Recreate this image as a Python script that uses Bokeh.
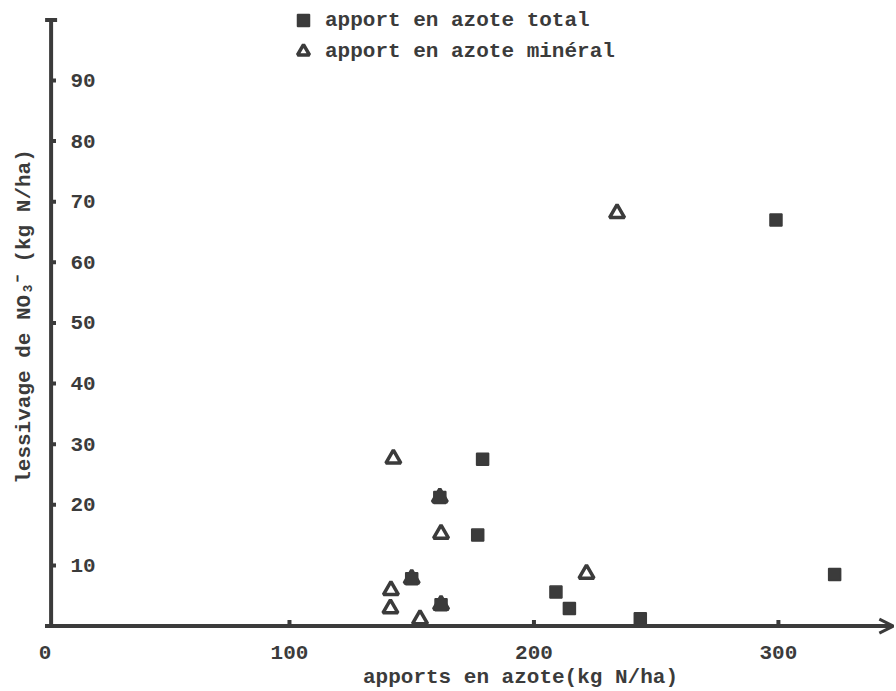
import math
from bokeh.plotting import figure
from bokeh.models import Range1d, Arrow, OpenHead, TeeHead, Label, Legend, LegendItem
from bokeh.core.properties import value
from bokeh.embed import file_html
from bokeh.resources import INLINE

# ---- data ----
series_names = ["apport en azote total", "apport en azote minéral"]
total_x = [299, 179, 177, 323, 209, 214.5, 243.5, 150, 161.5, 162]
total_y = [67, 27.5, 15, 8.5, 5.6, 2.9, 1.2, 7.8, 21.2, 3.5]
mineral_x = [234, 142.5, 162, 221.5, 141.5, 141.3, 153.4, 150, 161.5, 162]
mineral_y = [68.1, 27.6, 15.2, 8.6, 5.9, 2.9, 1.1, 7.8, 21.2, 3.5]

x_ticks = [0, 100, 200, 300]
x_tick_labels = ["0", "100", "200", "300"]
y_ticks = [10, 20, 30, 40, 50, 60, 70, 80, 90]
y_tick_labels = ["10", "20", "30", "40", "50", "60", "70", "80", "90"]
x_title = "apports en azote(kg N/ha)"
y_title = "lessivage de NO\u2083\u207b (kg N/ha)"
X_AXIS_END = 347
Y_AXIS_END = 100

INK = "#3b3b3b"
FONT = "Liberation Mono"
FSTYLE = "bold"

p = figure(width=896, height=691, x_range=Range1d(-18.2, 348.3), y_range=Range1d(-10.8, 103.2),
           output_backend="svg", toolbar_location=None, x_axis_type=None, y_axis_type=None,
           min_border=0, outline_line_color=None)
p.grid.visible = False
p.background_fill_color = "white"
p.border_fill_color = "white"

# axes lines
p.add_layout(Arrow(x_start=0, y_start=0, x_end=X_AXIS_END, y_end=0, line_width=4, line_color=INK,
                   end=OpenHead(size=14, line_width=3, line_color=INK)))
p.add_layout(Arrow(x_start=2.5, y_start=-0.3, x_end=2.5, y_end=Y_AXIS_END, line_width=4, line_color=INK,
                   end=TeeHead(size=12, line_width=4, line_color=INK)))

# tick marks
p.segment(x0=2.5, x1=4.5, y0=y_ticks, y1=y_ticks, line_width=4, line_color=INK)
p.segment(x0=x_ticks[1:], x1=x_ticks[1:], y0=0, y1=1.0, line_width=4, line_color=INK)

# tick labels
p.text(x=10.4, y=y_ticks, text=y_tick_labels, text_align="left", text_baseline="middle",
       text_font=value(FONT), text_font_style=FSTYLE, text_font_size="21px", text_color=INK)
p.text(x=x_ticks, y=-4.3, text=x_tick_labels, text_align="center", text_baseline="middle",
       text_font=value(FONT), text_font_style=FSTYLE, text_font_size="21px", text_color=INK)

# data: triangles first, squares on top
tri = p.scatter(mineral_x, mineral_y, marker="triangle", size=15, fill_color="white",
                line_color=INK, line_width=3.5)
sq = p.scatter(total_x, total_y, marker="square", size=12, fill_color=INK, line_color=INK, line_width=1.5)

# titles
p.add_layout(Label(x=520, y=14, x_units="screen", y_units="screen", text=x_title,
                   text_align="center", text_baseline="middle", text_font=FONT, text_font_style=FSTYLE,
                   text_font_size="21px", text_color=INK))
p.add_layout(Label(x=24, y=375, x_units="screen", y_units="screen", text=y_title, angle=math.pi / 2,
                   text_align="center", text_baseline="middle", text_font=FONT, text_font_style=FSTYLE,
                   text_font_size="21px", text_color=INK))

legend = Legend(items=[LegendItem(label=series_names[0], renderers=[sq]),
                       LegendItem(label=series_names[1], renderers=[tri])],
                location=(288, 625), orientation="vertical", glyph_width=30, glyph_height=30,
                label_standoff=7, spacing=1, padding=0, margin=0, border_line_color=None,
                background_fill_alpha=0, label_text_font=FONT, label_text_font_style=FSTYLE,
                label_text_font_size="21px", label_text_color=INK, label_height=30)
p.add_layout(legend)

open("out.html", "w").write(file_html(p, INLINE))
